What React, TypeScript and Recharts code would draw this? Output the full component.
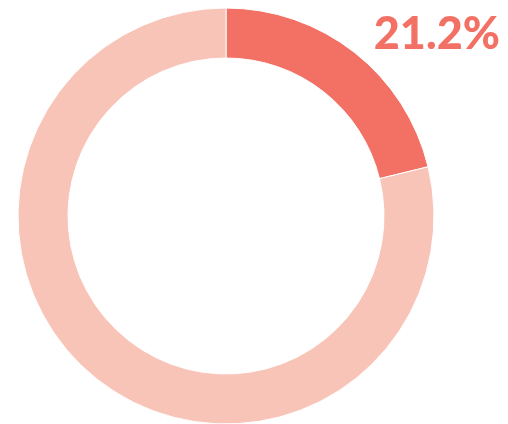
import { Cell, Pie, PieChart } from "recharts";

const labels = ["Share", "Rest"];
const values = [21.2, 78.8];
const colors = ["#f37064", "#f9c4b8"];

const data = labels.map((name, i) => ({ name, value: values[i] }));

export default function App() {
  return (
    <div
      style={{
        position: "fixed",
        left: 0,
        top: 0,
        width: 508,
        height: 424,
        overflow: "hidden",
        fontFamily: "Lato, sans-serif",
      }}
    >
      <PieChart width={508} height={424} margin={{ top: 0, right: 0, bottom: 0, left: 0 }}>
        <Pie
          data={data}
          dataKey="value"
          nameKey="name"
          cx={226}
          cy={216}
          innerRadius={158}
          outerRadius={208}
          startAngle={90}
          endAngle={-270}
          stroke="#ffffff"
          strokeWidth={1}
          isAnimationActive={false}
        >
          {data.map((d, i) => (
            <Cell key={d.name} fill={colors[i]} />
          ))}
        </Pie>
      </PieChart>
      <div
        style={{
          position: "absolute",
          right: 8,
          top: 5,
          fontSize: 45,
          fontWeight: 900,
          color: "#f37064",
          lineHeight: "54px",
        }}
      >
        {values[0]}%
      </div>
    </div>
  );
}
